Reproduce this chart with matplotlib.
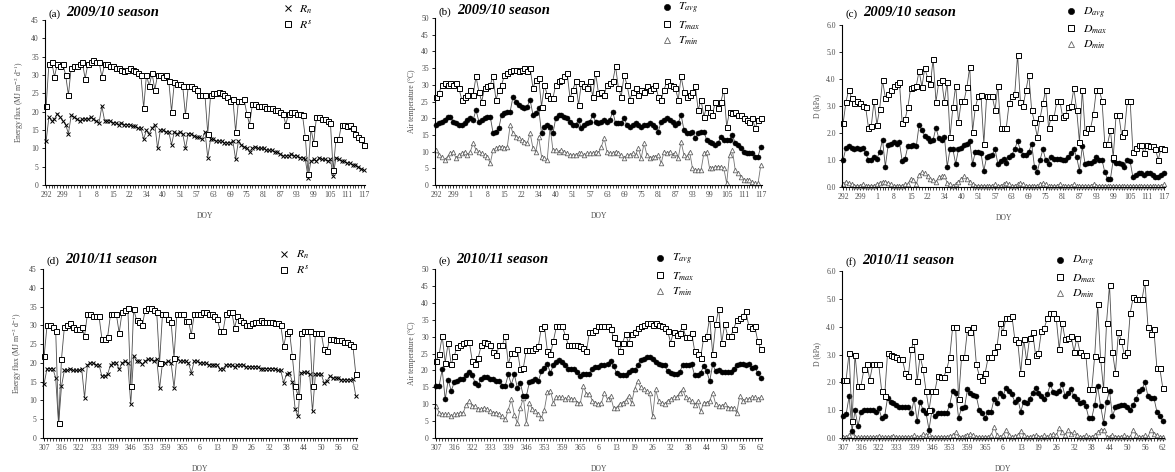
import matplotlib
matplotlib.use("Agg")
import matplotlib.pyplot as plt
import numpy as np
from matplotlib.lines import Line2D

plt.rcParams["font.family"] = ["Liberation Serif", "DejaVu Serif"]
plt.rcParams["mathtext.fontset"] = "stix"

# ---------------------------------------------------------------------------
# Tick labels (DOY, one label every 6 records)
# ---------------------------------------------------------------------------
DOY_0910 = ["292", "299", "1", "8", "15", "22", "34", "40", "51", "57",
            "63", "69", "75", "81", "87", "93", "99", "105", "111", "117"]
DOY_1011 = ["307", "316", "322", "333", "339", "346", "353", "359", "365", "6",
            "13", "19", "26", "32", "38", "44", "50", "56", "62"]

# ---------------------------------------------------------------------------
# 2009/10 season
# ---------------------------------------------------------------------------
RS_0910 = [21.5, 33, 33.5, 29.5, 33, 32.5, 33, 30, 24.5, 32, 32.5, 32.5, 33, 33.5, 29, 33, 33.5, 34, 33.5, 33.5,
           29.5, 33, 33, 32.5, 32.5, 32, 32, 31.5, 31, 31.5, 32, 31.5, 31, 30.5, 30, 21, 30, 27, 30.5, 26,
           30, 30, 29.5, 30, 28.5, 20, 28, 27.5, 27.5, 27, 19, 27, 27, 26.5, 26, 24.5, 24.5, 24.5, 14, 24.5,
           25, 25, 25.5, 25, 24.5, 24, 23, 23.5, 14.5, 23, 23, 23.5, 19.5, 16.5, 22, 22, 21.5, 21.5, 21.5, 21,
           21, 21, 20.5, 20.5, 20, 19.5, 16.5, 19.5, 20, 20, 19.5, 19.5, 19, 13, 3, 15.5, 11.5, 18.5, 18.5, 18,
           18, 17.5, 17, 4, 12.5, 12.5, 16.5, 16.5, 16, 16.5, 15.5, 14, 13, 12.5, 11]
RN_0910 = [12, 18.5, 17.5, 18, 19.5, 18.5, 17.5, 16.5, 14, 19, 18.5, 18, 17.5, 18, 18, 18, 18.5, 18, 17.5, 17,
           21.5, 17.5, 17.5, 17.5, 17, 17, 16.5, 17, 16.5, 16.5, 16.5, 16, 16, 15.5, 15.5, 12.5, 15, 14, 15.5, 16.5,
           10, 15, 15, 14.5, 14.5, 11, 14.5, 14, 14.5, 14, 10, 14, 14, 13.5, 13, 13, 12.5, 14.5, 7.5, 12.5,
           12.5, 12, 12, 12, 11.5, 11.5, 11.5, 12, 7, 12, 11, 10.5, 10, 9, 10, 10.5, 10, 10, 10, 9.5,
           9.5, 9.5, 9, 9, 8.5, 8, 8, 8, 8.5, 8, 8, 7.5, 7.5, 7, 2, 6.5, 7, 6.5, 7.5, 7,
           7, 6.5, 7, 2.5, 7.5, 7, 6.5, 6.5, 6, 6, 5.5, 5.5, 5, 4.5, 4]

TMAX_0910 = [26.5, 27.5, 30, 30.5, 30, 30.5, 30, 30.5, 29, 25.5, 26.5, 27, 28.5, 27, 32.5, 28, 25, 29, 29.5, 30,
             32.5, 25.5, 28.5, 30, 33, 33.5, 34, 34.5, 34.5, 34, 34.5, 35, 34, 35, 29, 31.5, 32, 23.5, 30, 27,
             26, 26, 30, 31, 31.5, 32.5, 33.5, 26, 28.5, 31, 24, 30.5, 29.5, 29, 31, 26.5, 33.5, 27.5, 28, 27,
             30, 30.5, 31, 35.5, 29, 26.5, 33, 30, 25.5, 28, 29, 27, 28.5, 28, 29.5, 28.5, 29, 30, 26.5, 25.5,
             28.5, 31, 30, 29.5, 29, 25.5, 32.5, 28, 26.5, 27, 28, 29.5, 22.5, 25.5, 20.5, 23.5, 22, 21, 25, 23,
             25, 28.5, 17.5, 22, 21.5, 22, 21, 21, 20, 19.5, 19, 20, 17, 19.5, 20]
TAVG_0910 = [18, 18.5, 19, 19.5, 20.5, 20.5, 19, 18.5, 18, 18, 18.5, 19.5, 20, 19.5, 22.5, 19, 19.5, 20, 20.5, 20.5,
             15.5, 16, 17, 21, 21.5, 22, 22, 26.5, 25, 24, 23.5, 23, 23.5, 25.5, 21, 21.5, 23, 15.5, 17.5, 18,
             17.5, 15.5, 20, 21, 21, 20.5, 20, 19, 18, 18, 19.5, 17, 18, 18.5, 19, 21, 19, 18.5, 19, 19.5,
             19, 19.5, 22, 18.5, 18.5, 18.5, 20, 18, 17.5, 18, 18.5, 18, 17.5, 18, 18, 18.5, 18, 17.5, 16, 19,
             19.5, 20, 19.5, 19, 18, 18.5, 21, 16.5, 15.5, 15.5, 16, 14, 15.5, 16, 16, 13.5, 13, 12.5, 12, 12.5,
             14.5, 13.5, 13.5, 13.5, 15, 12.5, 12, 11, 10, 9.5, 9.5, 9.5, 8.5, 8.5, 11.5]
TMIN_0910 = [10.5, 9, 8.5, 7.5, 8.5, 9.5, 10, 8, 9, 9.5, 10, 9, 10, 12.5, 10.5, 10, 9.5, 9, 8.5, 6.5,
             10.5, 11, 11.5, 11.5, 11, 11.5, 18, 15.5, 14.5, 14, 13.5, 13, 12.5, 15.5, 11, 10, 14.5, 8.5, 8, 7.5,
             17.5, 10.5, 10.5, 10, 10.5, 10, 9.5, 9, 9, 9, 9.5, 9.5, 9, 9.5, 9.5, 9.5, 10, 9.5, 11.5, 14,
             10, 9.5, 9.5, 10, 9.5, 9, 8, 9, 9, 9.5, 9, 11, 8, 12.5, 9, 8, 8.5, 8.5, 9, 6.5,
             10, 9.5, 10, 9, 9.5, 8, 13, 9, 8.5, 10, 5, 4.5, 4.5, 4.5, 9.5, 10, 5, 5, 5.5, 5.5,
             5.5, 5, 0.5, 9, 10.5, 4.5, 3.5, 2.5, 1.5, 1.5, 1.5, 1, 0.5, 0.5, 6]

DMAX_0910 = [2.35, 3.15, 3.6, 3.3, 3.1, 3.2, 3.1, 3.0, 2.95, 2.2, 2.25, 3.2, 2.3, 2.9, 3.95, 3.3, 3.45, 3.6, 3.75, 3.8,
             3.9, 2.35, 2.5, 2.95, 3.65, 3.7, 3.75, 4.3, 3.7, 4.4, 4.05, 3.8, 4.75, 3.15, 3.9, 3.95, 3.15, 3.9, 1.85, 2.95,
             3.75, 2.4, 3.2, 3.2, 3.7, 4.45, 2.05, 2.95, 3.35, 3.4, 1.6, 3.35, 3.35, 3.35, 2.85, 3.75, 2.2, 2.2, 2.2, 3.1,
             3.35, 3.45, 4.9, 3.15, 3.0, 3.6, 4.15, 2.85, 2.4, 1.85, 2.55, 3.1, 3.6, 2.2, 2.6, 2.6, 3.2, 3.2, 2.6, 2.65,
             2.95, 3.0, 3.65, 2.85, 1.65, 3.6, 2.05, 2.2, 2.2, 2.7, 3.6, 3.6, 3.2, 1.6, 1.6, 2.1, 1.1, 2.65, 2.65, 1.9,
             2.05, 3.2, 3.2, 1.3, 1.45, 1.55, 1.55, 1.25, 1.55, 1.5, 1.5, 1.4, 1.0, 1.45, 1.4]
DAVG_0910 = [1.0, 1.45, 1.5, 1.45, 1.4, 1.45, 1.4, 1.45, 1.25, 1.0, 1.0, 1.1, 1.05, 1.3, 1.75, 0.75, 1.55, 1.6, 1.65, 1.6,
             1.65, 0.95, 1.05, 1.5, 1.5, 1.55, 1.5, 2.3, 2.1, 1.9, 1.8, 1.7, 1.75, 2.2, 1.8, 1.75, 1.85, 0.75, 1.4, 1.4,
             0.85, 1.4, 1.45, 1.55, 1.6, 1.7, 0.85, 1.3, 1.3, 1.25, 0.6, 1.1, 1.15, 1.2, 1.4, 0.85, 0.95, 1.05, 0.9, 1.1,
             1.2, 1.4, 1.7, 1.35, 1.2, 1.2, 1.3, 1.6, 0.75, 0.55, 1.0, 1.4, 1.0, 0.85, 1.1, 1.05, 1.05, 1.05, 1.0, 1.0,
             1.1, 1.25, 1.4, 1.1, 0.6, 1.5, 0.85, 0.9, 0.9, 0.95, 1.1, 1.0, 1.0, 0.55, 0.3, 0.3, 1.0, 0.9, 0.9, 0.85,
             0.75, 1.0, 0.95, 0.35, 0.45, 0.5, 0.5, 0.45, 0.5, 0.5, 0.45, 0.35, 0.35, 0.45, 0.5]
DMIN_0910 = [0.1, 0.2, 0.15, 0.1, 0.05, 0.05, 0.05, 0.1, 0.05, 0.05, 0.05, 0.05, 0.1, 0.15, 0.2, 0.2, 0.15, 0.1, 0.05, 0.05,
             0.05, 0.05, 0.1, 0.1, 0.3, 0.25, 0.1, 0.45, 0.55, 0.5, 0.4, 0.3, 0.25, 0.2, 0.35, 0.4, 0.4, 0.15, 0.1, 0.05,
             0.1, 0.2, 0.3, 0.4, 0.3, 0.2, 0.1, 0.05, 0.05, 0.05, 0.05, 0.05, 0.05, 0.05, 0.1, 0.05, 0.05, 0.1, 0.15, 0.1,
             0.05, 0.05, 0.1, 0.15, 0.1, 0.05, 0.05, 0.05, 0.05, 0.05, 0.1, 0.15, 0.1, 0.05, 0.05, 0.05, 0.05, 0.1, 0.05, 0.05,
             0.05, 0.05, 0.1, 0.05, 0.05, 0.05, 0.05, 0.05, 0.05, 0.1, 0.05, 0.05, 0.05, 0.05, 0.05, 0.05, 0.05, 0.05, 0.05, 0.05,
             0.05, 0.05, 0.05, 0.05, 0.05, 0.05, 0.05, 0.05, 0.05, 0.05, 0.05, 0.05, 0.05, 0.05, 0.1]

# ---------------------------------------------------------------------------
# 2010/11 season
# ---------------------------------------------------------------------------
RS_1011 = [21.8, 30, 30, 29.5, 28.5, 4, 21, 29.5, 30, 30.5, 29.5, 29, 29, 29.5, 27.2, 33, 33, 32.5, 32.5, 32.5,
           26.5, 26.5, 27, 33, 33, 33, 28, 33.5, 34, 34.5, 13.8, 34.3, 31.5, 31, 30, 34, 34.5, 34.5, 34, 33.5,
           20, 33, 33, 31.7, 30.8, 21.4, 33, 33, 33, 31.2, 31.2, 27.5, 33, 33, 33, 33.5, 33.5, 33, 33, 32.5,
           31.7, 28.5, 28.5, 33, 33.5, 33.5, 29.4, 32.5, 31.5, 31, 30, 30, 30.5, 31, 31, 31.5, 31, 31, 31, 31,
           30.5, 30.5, 30, 24.5, 28, 28.5, 21.8, 13.8, 11.2, 28, 28.5, 28.5, 28.5, 13.8, 28, 28, 28, 23.6, 23.2, 26.5,
           26.5, 26, 26, 26, 25.5, 25.5, 25, 24.5, 17]
RN_1011 = [14.5, 18.5, 18.5, 18.5, 16, 3.6, 13.8, 18, 18, 18.5, 18, 18, 18, 18.5, 10.7, 19.5, 20, 20, 19.5, 19.5,
           16.5, 16.5, 17, 19.5, 20, 20, 18.3, 20, 20.5, 20, 9, 21.8, 20.5, 20.5, 19.6, 20.5, 21, 21, 20.5, 21,
           13.2, 20, 20, 20.5, 20, 13.4, 21.4, 20.5, 20.5, 20.5, 20, 17.4, 20.5, 20.5, 20, 20, 20, 19.5, 19.5, 19.5,
           19.5, 18.3, 18.5, 19.5, 19.5, 19.5, 19, 19.5, 19.5, 19.5, 19, 19, 19, 19, 19, 18.5, 18.5, 18.5, 18.5, 18.5,
           18.5, 18, 18, 14.7, 17, 17.4, 15, 7.6, 5.8, 17.4, 17.5, 17.5, 17, 7.1, 17, 17, 17, 14.7, 15.2, 16.5,
           16, 16, 16, 15.5, 15.5, 15.5, 15.5, 15.6, 11.2]

TMAX_1011 = [22.8, 24.8, 30.2, 22.3, 28.2, 21.8, 24.3, 27, 27.5, 28, 28.5, 28.5, 22.8, 21.8, 23.8, 27.5, 28.5, 28, 27.5, 25.5,
             24.5, 27.5, 27.5, 30.2, 21.8, 25.2, 25.2, 26.2, 20.3, 20.8, 26, 26, 26, 26.5, 27.2, 32.7, 33.2, 25.7, 24.8, 28.7,
             33, 33, 33, 30.2, 27.5, 27.5, 27.5, 27.5, 27.2, 26.5, 25.7, 31.5, 31.5, 32, 33, 33, 33, 33, 32.2, 30,
             28.2, 25.7, 28.2, 30.7, 28.2, 30.7, 31.5, 32.5, 33, 33.5, 34, 34, 33.5, 34, 33.5, 33, 32.5, 31.7, 28.2, 31.5,
             30.5, 31, 33.2, 30, 30, 31.2, 25.7, 24.8, 23.8, 29.7, 30.2, 35.6, 24.8, 33.7, 38.1, 28.2, 33.7, 30.2, 30.2, 32.2,
             35, 35.5, 36, 37.6, 33.2, 32.7, 33, 28.7, 26.2]
TAVG_1011 = [15.5, 15.5, 20.3, 11.4, 17.3, 13.9, 16.5, 17, 17.5, 17.5, 18.5, 19.5, 18.5, 16.3, 15.8, 17.5, 18, 18, 17.5, 17.5,
             17, 17, 15.5, 15.5, 18.8, 15.8, 18.8, 14.9, 16.3, 12.4, 12.4, 16.5, 17, 17.5, 16.8, 19.8, 20.8, 21.8, 19.3, 21.5,
             22.5, 23, 22.5, 21.5, 20.5, 20.5, 20.5, 19.5, 18.3, 19, 19, 19, 20.5, 21, 21, 21.5, 21.5, 21.8, 22.8, 21.3,
             19.3, 18.5, 18.5, 18.5, 19.5, 20, 20, 21.5, 23, 23.5, 24, 24, 23.5, 22.5, 22, 21.5, 21.5, 19.8, 19.3, 19,
             19, 19.5, 21.5, 21.5, 21.5, 21.8, 18.5, 18.5, 19.3, 21.3, 19.8, 16.8, 21.8, 19.8, 20, 19.5, 19.5, 19.5, 19.5, 20.5,
             21.5, 22, 22, 21.5, 22, 20.8, 21, 19.3, 17.8]
TMIN_1011 = [9.4, 7.5, 7, 7, 7, 6.5, 7, 7, 7.5, 7.5, 9.9, 10.9, 9.5, 9.5, 8.5, 8.5, 9, 8.5, 8, 7.5,
             7.5, 7, 6.5, 5.5, 8.4, 11.4, 6.9, 4.5, 8.9, 11.9, 4.5, 10.4, 8.5, 8, 7, 5.9, 8.4, 13.5, 14, 10.4,
             12, 12, 12, 11.5, 12, 11.5, 11.5, 10.5, 10.5, 15.3, 13, 13, 11, 10.5, 10, 10.5, 13.4, 11.4, 12.4, 9,
             9, 10, 10.5, 11, 12.4, 10.4, 14.4, 16.8, 15, 14.5, 14, 13.4, 6.4, 14.4, 11, 10.5, 10, 11, 11.5, 12,
             12, 13.4, 14.4, 12, 11.5, 11, 9.9, 10.9, 7.9, 10.5, 10.5, 11, 13.4, 10, 9.5, 9.5, 10, 9, 9, 9,
             7.4, 12.4, 11, 11.5, 11.5, 12, 12, 11.5, 12]

DMAX_1011 = [2.1, 2.1, 3.07, 0.6, 3.0, 1.87, 1.87, 2.47, 2.65, 2.1, 2.65, 2.65, 2.65, 1.7, 1.5, 3.07, 3.0, 2.95, 2.9, 2.83,
             2.83, 2.35, 2.23, 3.2, 3.5, 2.05, 2.95, 2.47, 1.7, 1.0, 1.7, 1.7, 2.23, 2.2, 2.2, 2.47, 2.9, 4.0, 4.0, 1.4,
             2.9, 2.9, 3.9, 3.8, 4.0, 2.65, 2.23, 2.1, 2.35, 2.9, 2.9, 3.1, 3.3, 4.15, 3.8, 4.3, 4.3, 4.4, 3.55, 3.45,
             2.35, 3.55, 2.77, 3.6, 3.8, 3.0, 3.07, 3.85, 3.97, 4.3, 4.5, 4.5, 4.3, 3.2, 4.15, 3.55, 3.6, 3.67, 3.1, 3.6,
             3.1, 3.0, 3.0, 1.75, 1.75, 2.95, 4.8, 2.83, 1.75, 4.15, 5.5, 3.1, 2.35, 3.8, 3.5, 3.0, 3.1, 4.5, 5.05, 5.0,
             5.0, 5.0, 5.6, 4.0, 3.75, 3.9, 2.53, 2.5, 1.8]
DAVG_1011 = [0.78, 0.85, 1.5, 0.25, 1.0, 0.42, 0.95, 1.0, 1.0, 1.0, 1.0, 0.95, 1.08, 0.72, 0.78, 1.45, 1.3, 1.25, 1.2, 1.1,
             1.1, 1.1, 1.1, 0.9, 1.4, 0.6, 1.3, 1.0, 0.9, 0.3, 1.0, 0.78, 0.9, 0.9, 0.9, 0.9, 1.2, 1.7, 1.63, 0.72,
             1.08, 1.1, 1.75, 1.6, 1.55, 1.5, 1.0, 0.9, 0.72, 0.95, 0.95, 1.4, 1.27, 1.63, 1.5, 1.8, 1.7, 1.57, 1.3, 1.4,
             0.95, 1.3, 1.27, 1.4, 1.63, 1.8, 1.6, 1.5, 1.4, 1.57, 1.93, 1.65, 1.6, 1.7, 1.93, 1.5, 1.6, 1.75, 1.5, 1.4,
             1.27, 1.3, 1.15, 0.72, 0.72, 1.2, 1.87, 1.15, 0.55, 1.3, 1.7, 0.78, 1.1, 1.15, 1.2, 1.2, 1.1, 1.0, 1.2, 1.4,
             1.7, 1.75, 2.0, 1.5, 1.45, 1.45, 0.95, 0.8, 0.6]
DMIN_1011 = [0.05, 0.05, 0.1, 0.2, 0.05, 0.03, 0.03, 0.05, 0.05, 0.03, 0.05, 0.05, 0.08, 0.05, 0.03, 0.05, 0.05, 0.08, 0.05, 0.03,
             0.05, 0.05, 0.05, 0.05, 0.1, 0.05, 0.05, 0.15, 0.1, 0.15, 0.05, 0.03, 0.05, 0.05, 0.05, 0.05, 0.08, 0.1, 0.2, 0.05,
             0.05, 0.08, 0.1, 0.15, 0.1, 0.05, 0.05, 0.03, 0.05, 0.05, 0.1, 0.4, 0.1, 0.05, 0.1, 0.3, 0.1, 0.05, 0.08, 0.1,
             0.25, 0.1, 0.05, 0.05, 0.08, 0.1, 0.05, 0.05, 0.1, 0.05, 0.1, 0.15, 0.1, 0.35, 0.2, 0.1, 0.3, 0.15, 0.2, 0.1,
             0.05, 0.05, 0.1, 0.05, 0.05, 0.1, 0.2, 0.3, 0.3, 0.05, 0.05, 0.1, 0.05, 0.05, 0.05, 0.1, 0.05, 0.05, 0.3, 0.1,
             0.05, 0.05, 0.1, 0.05, 0.3, 0.15, 0.1, 0.05, 0.05]

# ---------------------------------------------------------------------------
# Marker styles
# ---------------------------------------------------------------------------
SQUARE = dict(marker="s", ms=3.6, mfc="white", mec="black", mew=0.7, color="0.3", lw=0.6)
CROSS = dict(marker="x", ms=3.2, mec="black", mew=0.7, color="0.3", lw=0.6)
DOT = dict(marker="o", ms=3.6, mfc="black", mec="black", mew=0.4, color="0.3", lw=0.6)
TRI = dict(marker="^", ms=3.3, mfc="white", mec="0.4", mew=0.6, color="0.45", lw=0.6)


def style_axes(ax, ylim, ystep, yfmt, doy, n, ylabel):
    for side in ("top", "right"):
        ax.spines[side].set_visible(False)
    for side in ("left", "bottom"):
        ax.spines[side].set_linewidth(0.8)
    ax.set_xlim(-0.4, n - 0.6)
    ax.set_ylim(*ylim)
    yt = np.arange(ylim[0], ylim[1] + ystep / 2, ystep)
    ax.set_yticks(yt)
    ax.set_yticklabels([yfmt.format(v) for v in yt])
    ax.set_xticks(np.arange(0, n, 6))
    ax.set_xticklabels(doy)
    ax.set_xticks(np.arange(n), minor=True)
    ax.tick_params(axis="both", which="major", labelsize=5.5, labelcolor="0.3",
                   length=2.5, width=0.6, pad=2)
    ax.tick_params(axis="x", which="minor", length=1.8, width=0.5)
    ax.set_xlabel("DOY", fontsize=5.5, color="0.3", labelpad=9)
    ax.set_ylabel(ylabel, fontsize=5.5, color="0.3", labelpad=4)


def add_title(ax, tag, season, y):
    t = ax.text(0.012, y, tag, transform=ax.transAxes, fontsize=8,
                va="baseline", ha="left")
    ax.annotate(season, xy=(1, 0), xycoords=t, xytext=(4, 0),
                textcoords="offset points", fontsize=10.5, fontweight="bold",
                fontstyle="italic", va="bottom", ha="left")


def add_legend(ax, entries, anchor):
    handles = []
    for label, st in entries:
        kw = {k: v for k, v in st.items() if k not in ("color", "lw")}
        handles.append(Line2D([], [], linestyle="none", label=label, **kw))
    for h in handles:
        h.set_markersize(4.5)
    ax.legend(handles=handles, loc="upper left", bbox_to_anchor=anchor,
              frameon=False, fontsize=8.5, handlelength=1.0, handletextpad=0.5,
              labelspacing=0.25, borderpad=0, borderaxespad=0)


fig = plt.figure(figsize=(11.75, 4.72), dpi=100)

pos = {
    "a": [0.0383, 0.608, 0.2723, 0.3496],
    "b": [0.3702, 0.608, 0.2783, 0.3538],
    "c": [0.7166, 0.604, 0.2749, 0.3432],
    "d": [0.0366, 0.072, 0.2672, 0.358],
    "e": [0.3702, 0.072, 0.2783, 0.358],
    "f": [0.7166, 0.072, 0.2740, 0.3538],
}

rad_label = r"Energy flux (MJ m$^{-2}$ d$^{-1}$)"
tmp_label = "Air temperature (\u00b0C)"
vpd_label = "D (kPa)"

panels = [
    ("a", "(a)", "2009/10 season", DOY_0910,
     [(RN_0910, CROSS, r"$R_n$"), (RS_0910, SQUARE, r"$R^s$")],
     (0, 45), 5, "{:.0f}", rad_label, (0.74, 1.10), 1.02),
    ("b", "(b)", "2009/10 season", DOY_0910,
     [(TMIN_0910, TRI, r"$T_{min}$"), (TAVG_0910, DOT, r"$T_{avg}$"), (TMAX_0910, SQUARE, r"$T_{max}$")],
     (0, 50), 5, "{:.0f}", tmp_label, (0.69, 1.10), 1.02),
    ("c", "(c)", "2009/10 season", DOY_0910,
     [(DMIN_0910, TRI, r"$D_{min}$"), (DAVG_0910, DOT, r"$D_{avg}$"), (DMAX_0910, SQUARE, r"$D_{max}$")],
     (0, 6), 1, "{:.1f}", vpd_label, (0.69, 1.12), 1.05),
    ("d", "(d)", "2010/11 season", DOY_1011,
     [(RN_1011, CROSS, r"$R_n$"), (RS_1011, SQUARE, r"$R^s$")],
     (0, 45), 5, "{:.0f}", rad_label, (0.75, 1.12), 1.03),
    ("e", "(e)", "2010/11 season", DOY_1011,
     [(TMIN_1011, TRI, r"$T_{min}$"), (TAVG_1011, DOT, r"$T_{avg}$"), (TMAX_1011, SQUARE, r"$T_{max}$")],
     (0, 50), 5, "{:.0f}", tmp_label, (0.67, 1.10), 1.03),
    ("f", "(f)", "2010/11 season", DOY_1011,
     [(DMIN_1011, TRI, r"$D_{min}$"), (DAVG_1011, DOT, r"$D_{avg}$"), (DMAX_1011, SQUARE, r"$D_{max}$")],
     (0, 6), 1, "{:.1f}", vpd_label, (0.66, 1.10), 1.04),
]

for key, tag, season, doy, series, ylim, ystep, yfmt, ylabel, anchor, ty in panels:
    ax = fig.add_axes(pos[key])
    n = len(series[0][0])
    x = np.arange(n)
    for vals, st, label in series:
        ax.plot(x, vals, clip_on=False, **st)
    style_axes(ax, ylim, ystep, yfmt, doy, n, ylabel)
    add_title(ax, tag, season, ty)
    # legend order in the picture: avg / max / min (or Rn / Rs)
    if len(series) == 3:
        order = [series[1], series[2], series[0]]
    else:
        order = series
    add_legend(ax, [(lab, st) for _, st, lab in order], anchor)

fig.savefig("out.png", dpi=100)
